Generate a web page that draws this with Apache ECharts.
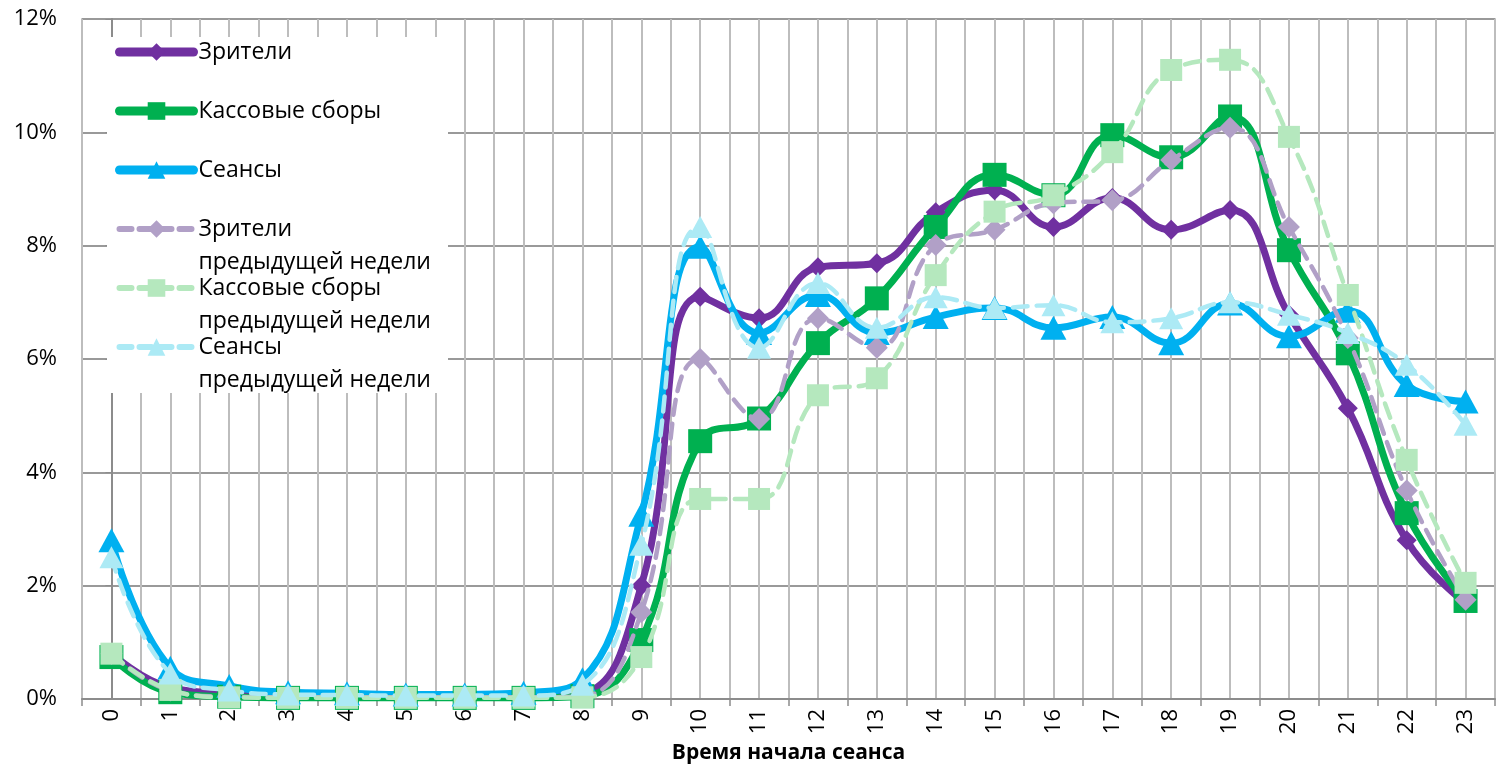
<!DOCTYPE html>
<html>
<head>
<meta charset="utf-8">
<script src="https://cdn.jsdelivr.net/npm/echarts@6/dist/echarts.min.js"></script>
<style>
html,body{margin:0;padding:0;background:#fff;}
#chart{width:1504px;height:765px;}
</style>
</head>
<body>
<div id="chart"></div>
<script>
const hours = ['0','1','2','3','4','5','6','7','8','9','10','11','12','13','14','15','16','17','18','19','20','21','22','23'];
const yTicks = [0, 2, 4, 6, 8, 10, 12];
const seriesNames = ['Зрители','Кассовые сборы','Сеансы','Зрители предыдущей недели','Кассовые сборы предыдущей недели','Сеансы предыдущей недели'];
const viewers = [0.81,0.2,0.1,0.07,0.06,0.05,0.04,0.04,0.1,2.0,7.1,6.72,7.62,7.69,8.59,8.98,8.33,8.84,8.28,8.63,6.78,5.13,2.8,1.69];
const boxOffice = [0.74,0.12,0.04,0.02,0.02,0.02,0.02,0.02,0.05,1.04,4.55,4.95,6.28,7.07,8.33,9.25,8.89,9.95,9.56,10.28,7.92,6.1,3.28,1.73];
const sessions = [2.8,0.55,0.23,0.12,0.1,0.08,0.08,0.11,0.35,3.25,7.98,6.46,7.13,6.46,6.74,6.9,6.55,6.74,6.28,6.98,6.4,6.85,5.54,5.25];
const viewersPrev = [0.8,0.15,0.04,0.03,0.03,0.03,0.03,0.03,0.05,1.53,6.0,4.94,6.72,6.2,8.01,8.28,8.75,8.8,9.51,10.08,8.33,6.37,3.68,1.75];
const boxOfficePrev = [0.8,0.16,0.03,0.02,0.02,0.02,0.02,0.02,0.03,0.74,3.53,3.53,5.36,5.66,7.48,8.6,8.89,9.65,11.1,11.28,9.92,7.13,4.22,2.05];
const sessionsPrev = [2.5,0.45,0.15,0.08,0.07,0.06,0.06,0.06,0.25,2.72,8.33,6.2,7.34,6.55,7.09,6.9,6.95,6.65,6.72,7.0,6.78,6.46,5.9,4.84];

const FONT = 'Open Sans';
const colors = ['#7030A0','#00B050','#00B0F0','#B1A0C7','#B5E8BE','#ACEAF5'];
const symbols = ['diamond','rect','triangle','diamond','rect','triangle'];
const symbolSizes = [[20,20],[24,24],[26,24],[22,22],[22,22],[24,22]];
const dataSets = [viewers, boxOffice, sessions, viewersPrev, boxOfficePrev, sessionsPrev];

const series = dataSets.map((d, i) => {
  const prev = i >= 3;
  return {
    name: seriesNames[i],
    type: 'line',
    xAxisIndex: 0,
    data: d,
    smooth: 0.45,
    symbol: symbols[i],
    symbolSize: symbolSizes[i],
    lineStyle: { color: colors[i], width: prev ? 4.5 : 7, type: prev ? [15, 9] : 'solid', cap: 'round' },
    itemStyle: { color: colors[i], borderWidth: 0 },
    z: prev ? 3 : 2,
    emphasis: { disabled: true }
  };
});

const chart = echarts.init(document.getElementById('chart'), null, { renderer: 'canvas' });
chart.setOption({
  animation: false,
  backgroundColor: '#fff',
  textStyle: { fontFamily: FONT },
  grid: { left: 82, right: 9, top: 19, bottom: 66, show: true, borderColor: '#a6a6a6', borderWidth: 1.5, outerBoundsMode: 'none', containLabel: false },
  xAxis: [
    {
      type: 'category',
      data: hours,
      boundaryGap: true,
      name: 'Время начала сеанса',
      nameLocation: 'middle',
      nameGap: 44,
      nameTextStyle: { fontFamily: FONT, fontSize: 21, fontWeight: 'bold', color: '#000' },
      axisLine: { show: true, lineStyle: { color: '#8c8c8c', width: 2 } },
      axisTick: { show: true, length: 7, lineStyle: { color: '#8c8c8c', width: 1.5 } },
      axisLabel: { rotate: 90, fontFamily: FONT, fontSize: 22, color: '#000', margin: 10 },
      splitLine: { show: false }
    },
    {
      type: 'value',
      position: 'top',
      min: -0.5,
      max: 23.5,
      interval: 0.5,
      axisLine: { show: false },
      axisTick: { show: false },
      axisLabel: { show: false },
      splitLine: { show: true, lineStyle: { color: '#bdbdbd', width: 2 } }
    }
  ],
  yAxis: {
    type: 'value',
    min: 0,
    max: 12,
    interval: 2,
    axisLine: { show: true, lineStyle: { color: '#8c8c8c', width: 2 } },
    axisTick: { show: true, length: 6, lineStyle: { color: '#8c8c8c' } },
    axisLabel: { fontFamily: FONT, fontSize: 22, color: '#000', margin: 25, formatter: v => yTicks.includes(v) ? v + '%' : '' },
    splitLine: { show: true, lineStyle: { color: '#999999', width: 2 } }
  },
  graphic: [{
    type: 'rect',
    z: 3,
    shape: { x: 107, y: 37, width: 341, height: 356 },
    style: { fill: '#fff' },
    silent: true
  }],
  legend: {
    orient: 'vertical',
    left: 115,
    top: 2.5,
    padding: 0,
    itemWidth: 74,
    itemHeight: 22,
    itemGap: -40,
    z: 5,
    selectedMode: false,
    textStyle: { fontFamily: FONT, fontSize: 23, color: '#000', lineHeight: 33 },
    formatter: name => {
      if (name.indexOf(' предыдущей') >= 0) {
        return ' \n' + name.replace(' предыдущей', '\nпредыдущей');
      }
      return ' \n' + name + '\n ';
    },
    data: seriesNames.map((n, i) => ({
      name: n,
      lineStyle: { color: colors[i], width: i >= 3 ? 6 : 9, type: i >= 3 ? [12, 8] : 'solid', cap: 'round' },
      itemStyle: { color: colors[i], borderWidth: 0 }
    }))
  },
  series: series
});
</script>
</body>
</html>
